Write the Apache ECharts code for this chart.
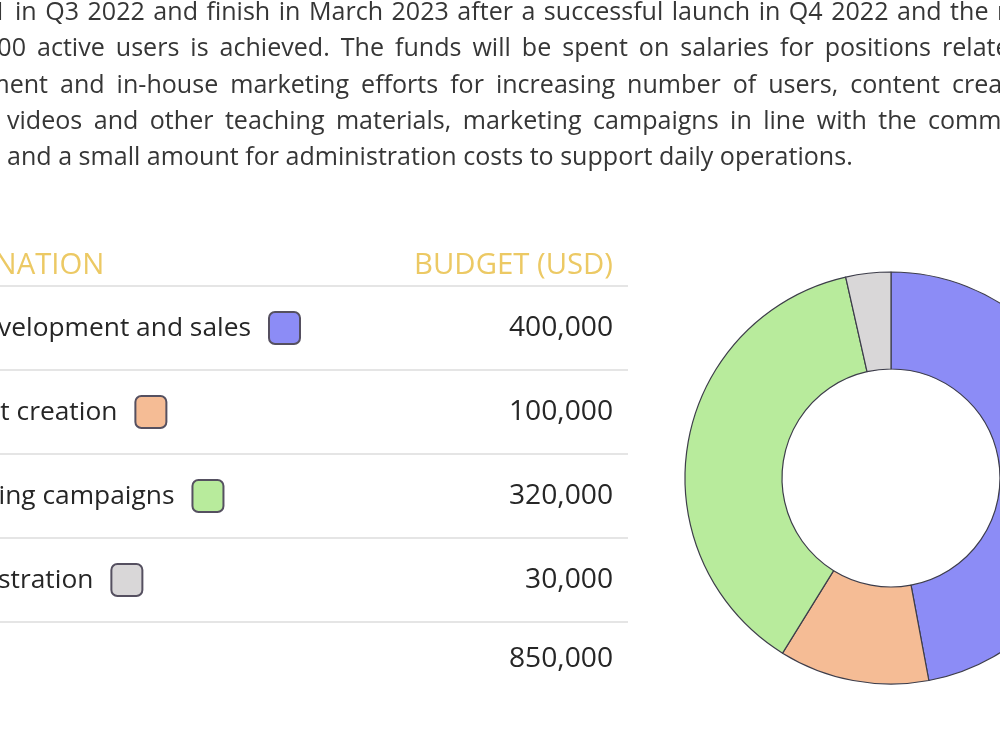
<!DOCTYPE html>
<html>
<head>
<meta charset="utf-8">
<script src="https://cdn.jsdelivr.net/npm/echarts@6/dist/echarts.min.js"></script>
<style>
html,body{margin:0;padding:0;background:#fff;}
#chart{width:1000px;height:750px;}
</style>
</head>
<body>
<div id="chart"></div>
<script>
// ---- data ----
const paragraphLines = [
  "1 in Q3 2022 and finish in March 2023 after a successful launch in Q4 2022 and the r",
  "000 active users is achieved. The funds will be spent on salaries for positions relate",
  "ment and in-house marketing efforts for increasing number of users, content crea",
  "videos and other teaching materials, marketing campaigns in line with the comm",
  "and a small amount for administration costs to support daily operations."
];
const headers = ["DESIGNATION", "BUDGET (USD)"];
const categories = ["App development and sales", "Content creation", "Marketing campaigns", "Administration"];
const budget = [400000, 100000, 320000, 30000];
const colors = ["#8c8cf6", "#f5bc95", "#b8eb9c", "#d9d7d8"];
const totalLabel = "Total";

// ---- layout helpers ----
const FAMILY = "'Open Sans', sans-serif";
const mctx = document.createElement('canvas').getContext('2d');
function fontOf(size, weight) { return (weight || 'normal') + ' ' + size.toFixed(2) + 'px ' + FAMILY; }
function tw(text, font) { mctx.font = font; return mctx.measureText(text).width; }
function fitSize(text, targetW) { return 20 * targetW / tw(text, fontOf(20)); }

const pSize = fitSize(paragraphLines[4], 846);
const tSize = fitSize("velopment and sales", 253);
const hSize = fitSize(headers[1], 199);
const nSize = fitSize("400,000", 104);

const elements = [];

// paragraph (justified lines, anchored on two visible words)
const anchors = [
  {a: 1, ax: 15, bx: 997},
  {a: 1, ax: 37, bx: 942},
  {a: 1, ax: 60, bx: 952},
  {a: 0, ax: 7, bx: 928},
  {a: 0, ax: 7, bx: null}
];
const PY0 = 13, PDY = 36.3;
paragraphLines.forEach((line, i) => {
  const words = line.split(' ');
  const f = fontOf(pSize);
  const widths = words.map(w => tw(w, f));
  const an = anchors[i];
  const b = words.length - 1;
  let gap;
  if (an.bx == null) {
    gap = tw(' ', f);
  } else {
    let sum = 0;
    for (let k = an.a; k < b; k++) sum += widths[k];
    gap = (an.bx - an.ax - sum) / (b - an.a);
  }
  let x = an.ax;
  for (let k = an.a - 1; k >= 0; k--) x -= widths[k] + gap;
  const y = PY0 + i * PDY;
  words.forEach((w, k) => {
    elements.push({type: 'text', silent: true, style: {text: w, x: x, y: y, font: f, fill: '#363636', align: 'left', verticalAlign: 'middle'}});
    x += widths[k] + gap;
  });
});

// table
const tf = fontOf(tSize);
const hf = fontOf(hSize);
const nf = fontOf(nSize);
const L = 251 - tw(categories[0], tf);
const RIGHT = 613;
const LINE0 = 286, ROWH = 84;
const fmt = v => v.toLocaleString('en-US');

elements.push({type: 'text', silent: true, style: {text: headers[0], x: L, y: 266, font: hf, fill: '#ecc964', align: 'left', verticalAlign: 'middle'}});
elements.push({type: 'text', silent: true, style: {text: headers[1], x: RIGHT - tw(headers[1], hf), y: 266, font: hf, fill: '#ecc964', align: 'left', verticalAlign: 'middle'}});

for (let i = 0; i <= categories.length; i++) {
  elements.push({type: 'line', silent: true, shape: {x1: 0, y1: LINE0 + i * ROWH, x2: 628, y2: LINE0 + i * ROWH}, style: {stroke: '#e5e5e5', lineWidth: 2}});
}
const rowOff = [46, 40, 41, 41];
categories.forEach((c, i) => {
  const cy = LINE0 + i * ROWH + 42;
  const lw = tw(c, tf);
  elements.push({type: 'text', silent: true, style: {text: c, x: L, y: cy, font: tf, fill: '#262626', align: 'left', verticalAlign: 'middle'}});
  elements.push({type: 'rect', silent: true, shape: {x: L + lw + 18, y: cy - 16, width: 31, height: 32, r: 6}, style: {fill: colors[i], stroke: '#555060', lineWidth: 2}});
  const vs = fmt(budget[i]);
  elements.push({type: 'text', silent: true, style: {text: vs, x: RIGHT - tw(vs, nf), y: cy, font: nf, fill: '#262626', align: 'left', verticalAlign: 'middle'}});
});
const total = budget.reduce((s, v) => s + v, 0);
const totY = LINE0 + categories.length * ROWH + 37;
elements.push({type: 'text', silent: true, style: {text: totalLabel, x: L, y: totY, font: tf, fill: '#262626', align: 'left', verticalAlign: 'middle'}});
elements.push({type: 'text', silent: true, style: {text: fmt(total), x: RIGHT - tw(fmt(total), nf), y: totY, font: nf, fill: '#262626', align: 'left', verticalAlign: 'middle'}});

const chart = echarts.init(document.getElementById('chart'), null, {renderer: 'canvas'});
chart.setOption({
  backgroundColor: '#ffffff',
  animation: false,
  graphic: {elements: elements},
  series: [{
    type: 'pie',
    center: [891, 478],
    radius: [109, 206],
    startAngle: 90,
    clockwise: true,
    silent: true,
    label: {show: false},
    labelLine: {show: false},
    itemStyle: {borderColor: '#3d3d4a', borderWidth: 1.2},
    data: categories.map((c, i) => ({name: c, value: budget[i], itemStyle: {color: colors[i]}}))
  }]
});
</script>
</body>
</html>
